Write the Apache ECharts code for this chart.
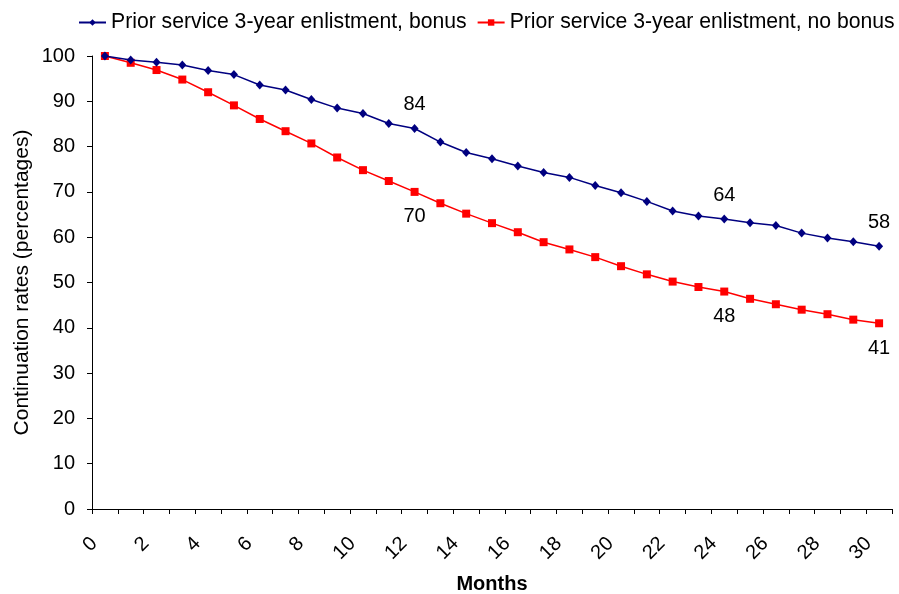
<!DOCTYPE html>
<html>
<head>
<meta charset="utf-8">
<script src="https://cdn.jsdelivr.net/npm/echarts@6/dist/echarts.min.js"></script>
<style>
  html, body { margin: 0; padding: 0; background: #fff; }
  #chart { width: 899px; height: 594px; }
</style>
</head>
<body>
<div id="chart"></div>
<script>
// Months since enlistment (category axis)
var months = [0,1,2,3,4,5,6,7,8,9,10,11,12,13,14,15,16,17,18,19,20,21,22,23,24,25,26,27,28,29,30];

// Continuation rates, in percent
var bonusRates = [100, 99.1, 98.6, 98.0, 96.8, 95.9, 93.6, 92.5, 90.4, 88.5, 87.3, 85.1, 84,
  81.0, 78.7, 77.3, 75.7, 74.3, 73.2, 71.4, 69.8, 67.9, 65.8, 64.7, 64, 63.2, 62.6, 60.9, 59.8, 59.0, 58];
var noBonusRates = [100, 98.5, 96.9, 94.8, 92.0, 89.1, 86.1, 83.4, 80.7, 77.6, 74.8, 72.4, 70,
  67.5, 65.2, 63.1, 61.1, 58.9, 57.3, 55.6, 53.6, 51.8, 50.2, 49.0, 48, 46.4, 45.2, 44.0, 43.0, 41.8, 41];

// Months whose values are written next to the points
var labelledMonths = [12, 24, 30];

var seriesNames = ['Prior service 3-year enlistment, bonus', 'Prior service 3-year enlistment, no bonus'];

var FONT = 'Liberation Sans, Arial, sans-serif';

function withLabels(values, dy) {
  return values.map(function (v, i) {
    if (labelledMonths.indexOf(i) >= 0) {
      return {
        value: v,
        label: {
          show: true,
          position: 'inside',
          offset: [0, dy],
          formatter: function (p) { return Math.round(p.value); },
          color: '#000',
          fontFamily: FONT,
          fontSize: 20
        }
      };
    }
    return v;
  });
}

var chart = echarts.init(document.getElementById('chart'), null, { renderer: 'canvas' });

chart.setOption({
  animation: false,
  backgroundColor: '#fff',
  textStyle: { fontFamily: FONT },
  legend: {
    top: 12,
    left: 78,
    width: 821,
    padding: 0,
    itemWidth: 27,
    itemHeight: 8,
    itemGap: 10,
    textStyle: { fontFamily: FONT, fontSize: 21.2, color: '#000' },
    data: seriesNames
  },
  grid: {
    left: 92,
    right: 7,
    top: 56,
    bottom: 85,
    outerBoundsMode: 'none',
    containLabel: false
  },
  xAxis: {
    type: 'category',
    data: months,
    boundaryGap: true,
    name: 'Months',
    nameLocation: 'middle',
    nameGap: 65.5,
    nameMoveOverlap: false,
    nameTextStyle: { fontFamily: FONT, fontSize: 20, fontWeight: 'bold', color: '#000' },
    axisLine: { lineStyle: { color: '#000', width: 1 } },
    axisTick: { show: true, interval: 0, length: 5, lineStyle: { color: '#000' } },
    axisLabel: {
      interval: 1,
      rotate: 45,
      margin: 21,
      padding: [0, 15, 0, 0],
      fontFamily: FONT,
      fontSize: 20,
      color: '#000'
    },
    splitLine: { show: false }
  },
  yAxis: {
    type: 'value',
    min: 0,
    max: 100,
    interval: 10,
    name: 'Continuation rates (percentages)',
    nameLocation: 'middle',
    nameGap: 59,
    nameMoveOverlap: false,
    nameTextStyle: { fontFamily: FONT, fontSize: 21, color: '#000' },
    axisLine: { show: true, lineStyle: { color: '#000', width: 1 } },
    axisTick: { show: true, length: 5, lineStyle: { color: '#000' } },
    axisLabel: { margin: 17, fontFamily: FONT, fontSize: 20, color: '#000' },
    splitLine: { show: false }
  },
  series: [
    {
      name: seriesNames[0],
      type: 'line',
      data: withLabels(bonusRates, -24),
      symbol: 'diamond',
      symbolSize: [8, 9],
      lineStyle: { color: '#000080', width: 1.5 },
      itemStyle: { color: '#000080' },
      z: 3
    },
    {
      name: seriesNames[1],
      type: 'line',
      data: withLabels(noBonusRates, 25),
      symbol: 'rect',
      symbolSize: 8,
      lineStyle: { color: '#ff0000', width: 1.5 },
      itemStyle: { color: '#ff0000' },
      z: 2
    }
  ]
});
</script>
</body>
</html>
